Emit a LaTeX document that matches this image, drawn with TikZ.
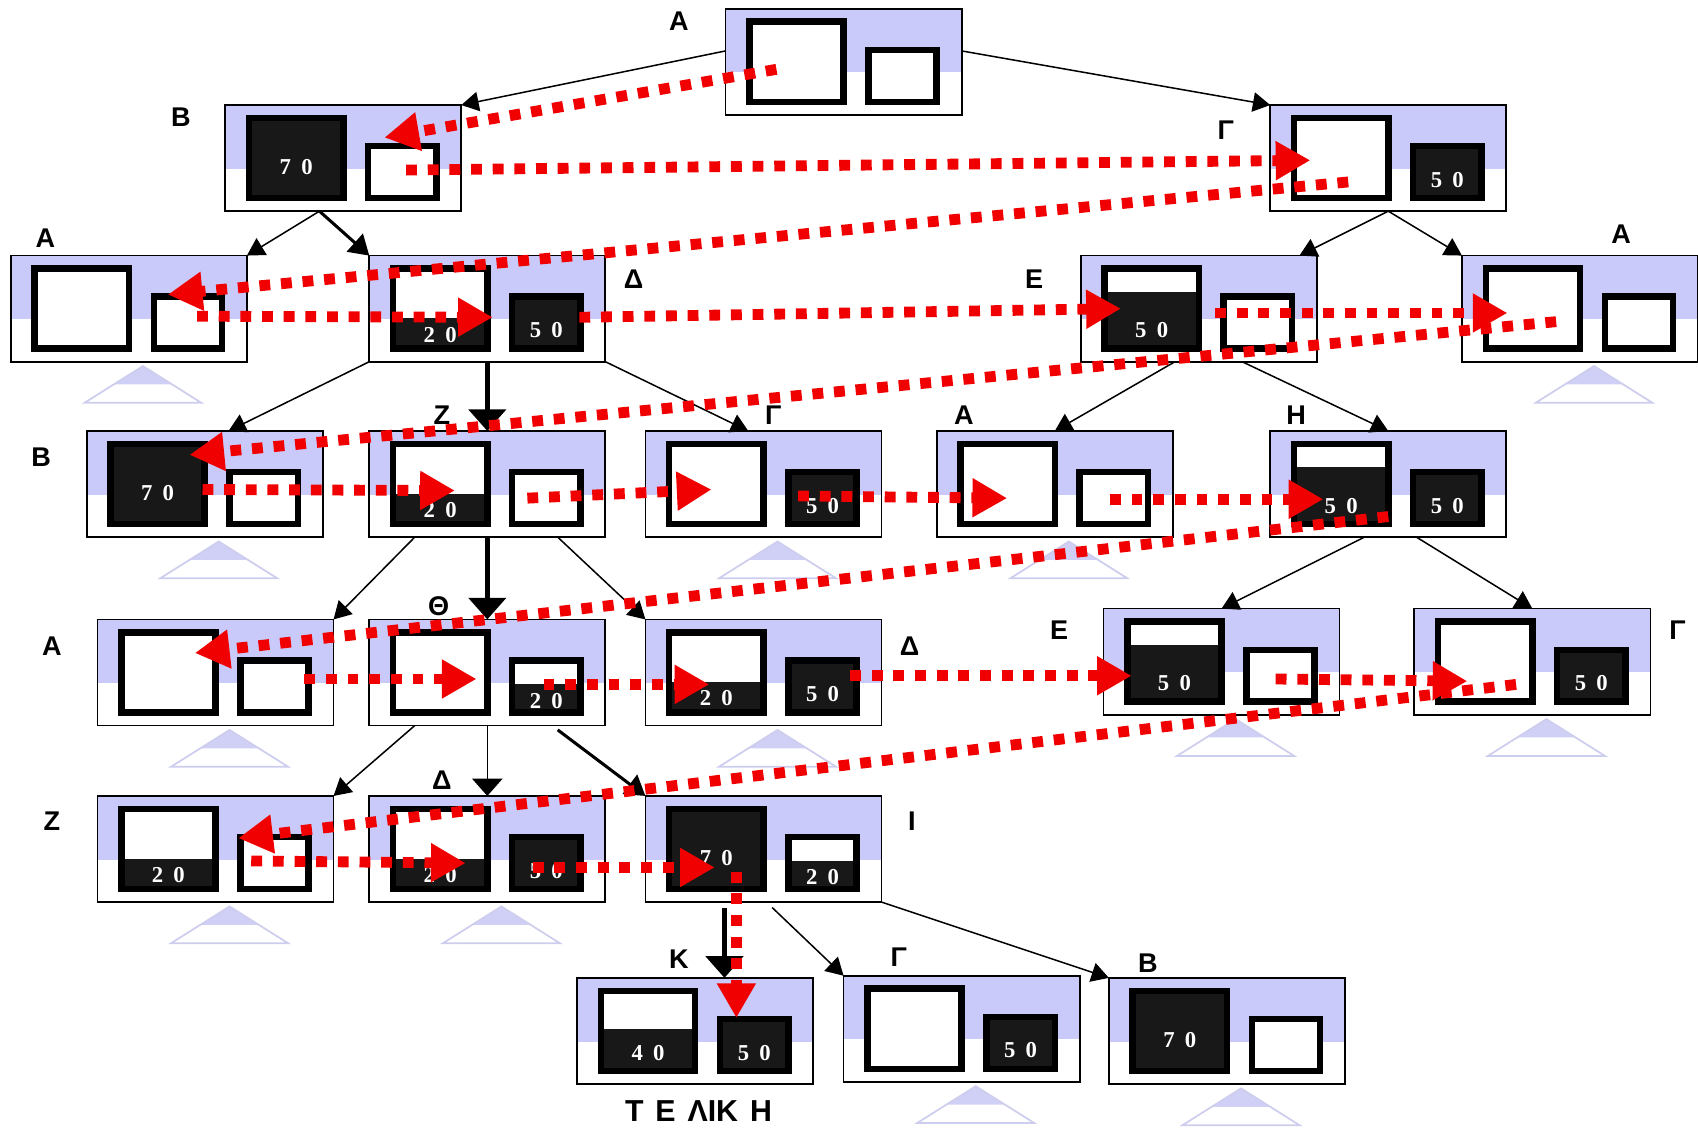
\documentclass[tikz,border=0pt]{standalone}
\usepackage{fontspec}
\setmainfont{Liberation Sans}
\newfontfamily\numfont{Liberation Serif}
\usetikzlibrary{arrows.meta,calc}
\definecolor{lav}{RGB}{202,202,250}
\definecolor{trifill}{RGB}{208,208,246}
\definecolor{triline}{RGB}{205,205,238}
\definecolor{sqdark}{RGB}{24,24,24}
\definecolor{tred}{RGB}{240,0,0}
\newcommand{\dd}[2]{#1\hspace{4.7pt}#2}
\newcommand{\sqdraw}[4]{%
  \fill[white] (#1a) rectangle (#1b);
  \ifdim #2pt>0pt \fill[sqdark] (#1a |- #1b) rectangle ($(#1b)!#2!(#1b |- #1a)$);\fi
  \draw[line width=3pt] (#1a) rectangle (#1b);
  \if\relax\detokenize{#3}\relax\else
    \node[numlbl] (#1t) at ($(#1a |- #1b)!0.5!(#1b)+(0,-#4)$) {#3};
  \fi}
\newcommand{\sqL}[4]{%
  \coordinate (#1-La) at ($(#1.north west)+(22,12)$);
  \coordinate (#1-Lb) at ($(#1.north west)+(109,86)$);
  \sqdraw{#1-L}{#2}{#3}{#4}}
\newcommand{\sqR}[4]{%
  \coordinate (#1-Ra) at ($(#1.north west)+(132,38)$);
  \coordinate (#1-Rb) at ($(#1.north west)+(195,86)$);
  \sqdraw{#1-R}{#2}{#3}{#4}}
\newcommand{\tri}[1]{%
  \fill[trifill] ($(#1.south west)+(122,4)$) -- ($(#1.south west)+(95,21)$) -- ($(#1.south west)+(149,21)$) -- cycle;
  \draw[triline, line width=0.8pt] ($(#1.south west)+(122,4)$) -- ($(#1.south west)+(68,38)$) -- ($(#1.south west)+(176,38)$) -- cycle;}
\begin{document}
\begin{tikzpicture}[x=0.5pt,y=-0.5pt,
  tbox/.style={draw=black, line width=0.8pt, rectangle, minimum width=109pt, minimum height=49pt,
    inner sep=0pt, outer sep=0pt,
    path picture={\fill[lav] (path picture bounding box.north west) rectangle
      ($(path picture bounding box.south east)!0.4!(path picture bounding box.north east)$);}},
  numlbl/.style={text=white, inner sep=0pt, font=\numfont\bfseries\fontsize{10.5}{12}\selectfont},
  lbl/.style={inner sep=0pt, font=\bfseries\fontsize{12.5}{14}\selectfont},
  tedge/.style={draw=black, line width=0.7pt, -{Triangle[length=8pt,width=9pt]}},
  tvert/.style={draw=black, line width=0.7pt, -{Triangle[length=8pt,width=14pt]}},
  tmed/.style={draw=black, line width=1.4pt, -{Triangle[length=9pt,width=11pt]}},
  tthick/.style={draw=black, line width=2.5pt, -{Triangle[length=10pt,width=17pt]}},
  redarr/.style={draw=tred, line width=5pt, dash pattern=on 5pt off 5pt, -{Triangle[length=16pt,width=17pt]}}
]
\useasboundingbox (0,0) rectangle (1568,1041);
% boxes
\node[tbox] (A0) at (670+109,8+49) {};
\node[tbox] (B1) at (208+109,97+49) {};
\node[tbox] (G1) at (1173+109,97+49) {};
\node[tbox] (A2L) at (10+109,236+49) {};
\node[tbox] (D2) at (341+109,236+49) {};
\node[tbox] (E2) at (998+109,236+49) {};
\node[tbox] (A2R) at (1350+109,236+49) {};
\node[tbox] (B3) at (80+109,398+49) {};
\node[tbox] (Z3) at (341+109,398+49) {};
\node[tbox] (G3) at (596+109,398+49) {};
\node[tbox] (A3) at (865+109,398+49) {};
\node[tbox] (H3) at (1173+109,398+49) {};
\node[tbox] (A4) at (90+109,572+49) {};
\node[tbox] (T4) at (341+109,572+49) {};
\node[tbox] (D4) at (596+109,572+49) {};
\node[tbox] (E4) at (1019+109,562+49) {};
\node[tbox] (G4) at (1306+109,562+49) {};
\node[tbox] (Z5) at (90+109,735+49) {};
\node[tbox] (D5) at (341+109,735+49) {};
\node[tbox] (I5) at (596+109,735+49) {};
\node[tbox] (K6) at (533+109,903+49) {};
\node[tbox] (G6) at (779+109,901+49) {};
\node[tbox] (B6) at (1024+109,903+49) {};
% squares
\sqL{A0}{0}{}{0} \sqR{A0}{0}{}{0}
\sqL{B1}{1}{\dd70}{29} \sqR{B1}{0}{}{0}
\sqL{G1}{0}{}{0} \sqR{G1}{1}{\dd50}{17}
\sqL{A2L}{0}{}{0} \sqR{A2L}{0}{}{0}
\sqL{D2}{0.38}{\dd20}{13} \sqR{D2}{1}{\dd50}{17}
\sqL{E2}{0.71}{\dd50}{17} \sqR{E2}{0}{}{0}
\sqL{A2R}{0}{}{0} \sqR{A2R}{0}{}{0}
\sqL{B3}{1}{\dd70}{29} \sqR{B3}{0}{}{0}
\sqL{Z3}{0.38}{\dd20}{13} \sqR{Z3}{0}{}{0}
\sqL{G3}{0}{}{0} \sqR{G3}{1}{\dd50}{17}
\sqL{A3}{0}{}{0} \sqR{A3}{0}{}{0}
\sqL{H3}{0.71}{\dd50}{17} \sqR{H3}{1}{\dd50}{17}
\sqL{A4}{0}{}{0} \sqR{A4}{0}{}{0}
\sqL{T4}{0}{}{0} \sqR{T4}{0.55}{\dd20}{11}
\sqL{D4}{0.38}{\dd20}{13} \sqR{D4}{1}{\dd50}{17}
\sqL{E4}{0.71}{\dd50}{17} \sqR{E4}{0}{}{0}
\sqL{G4}{0}{}{0} \sqR{G4}{1}{\dd50}{17}
\sqL{Z5}{0.38}{\dd20}{13} \sqR{Z5}{0}{}{0}
\sqL{D5}{0.38}{\dd20}{13} \sqR{D5}{1}{\dd50}{17}
\sqL{I5}{1}{\dd70}{29} \sqR{I5}{0.55}{\dd20}{11}
\sqL{K6}{0.53}{\dd40}{17} \sqR{K6}{1}{\dd50}{17}
\sqL{G6}{0}{}{0} \sqR{G6}{1}{\dd50}{17}
\sqL{B6}{1}{\dd70}{29} \sqR{B6}{0}{}{0}
% subtree triangles
\tri{A2L} \tri{A2R} \tri{B3} \tri{G3} \tri{A3} \tri{A4} \tri{D4} \tri{E4} \tri{G4} \tri{Z5} \tri{D5} \tri{G6} \tri{B6}
% labels
\node[lbl] (lA0) at (627,20) {Α};
\node[lbl] (lB1) at (167,108) {Β};
\node[lbl] (lG1) at (1132,120) {Γ};
\node[lbl] (lA2L) at (42,220) {Α};
\node[lbl] (lD2) at (585,258) {Δ};
\node[lbl] (lE2) at (955,258) {Ε};
\node[lbl] (lA2R) at (1497,216) {Α};
\node[lbl] (lB3) at (38,422) {Β};
\node[lbl] (lZ3) at (408,383) {Ζ};
\node[lbl] (lG3) at (714,383) {Γ};
\node[lbl] (lA3) at (890,383) {Α};
\node[lbl] (lH3) at (1197,383) {Η};
\node[lbl] (lA4) at (48,597) {Α};
\node[lbl] (lT4) at (405,560) {Θ};
\node[lbl] (lD4) at (840,597) {Δ};
\node[lbl] (lE4) at (978,582) {Ε};
\node[lbl] (lG4) at (1549,582) {Γ};
\node[lbl] (lZ5) at (48,758) {Ζ};
\node[lbl] (lD5) at (408,720) {Δ};
\node[lbl] (lI5) at (842,758) {Ι};
\node[lbl] (lK6) at (627,886) {Κ};
\node[lbl] (lG6) at (830,884) {Γ};
\node[lbl] (lB6) at (1060,889) {Β};
\node[lbl, font=\bfseries\fontsize{14}{16}\selectfont] (final) at (645,1026) {\spaceskip=5.5pt Τ Ε ΛΙΚ Η};
% tree edges
\draw[tedge] ([yshift=5pt]A0.west) -- (B1.north east);
\draw[tedge] ([yshift=5pt]A0.east) -- (G1.north west);
\draw[tedge] ([xshift=-11pt]B1.south) -- (A2L.north east);
\draw[tmed] ([xshift=-11pt]B1.south) -- (D2.north west);
\draw[tedge] (G1.south) -- ([xshift=-8pt]E2.north east);
\draw[tedge] (G1.south) -- (A2R.north west);
\draw[tedge] (D2.south west) -- ([xshift=11pt]B3.north);
\draw[tthick] (D2.south) -- (Z3.north);
\draw[tedge] (D2.south east) -- ([xshift=-7pt]G3.north);
\draw[tedge] ([xshift=-11pt]E2.south) -- (A3.north);
\draw[tedge] ([xshift=20pt]E2.south) -- (H3.north);
\draw[tedge] ([xshift=21pt]Z3.south west) -- (A4.north east);
\draw[tthick] (Z3.south) -- (T4.north);
\draw[tedge] ([xshift=-22pt]Z3.south east) -- (D4.north west);
\draw[tedge] ([xshift=-11pt]H3.south) -- (E4.north);
\draw[tedge] ([xshift=13pt]H3.south) -- (G4.north);
\draw[tedge] ([xshift=21pt]T4.south west) -- (Z5.north east);
\draw[tvert] (T4.south) -- (D5.north);
\draw[tmed] ([xshift=-22pt,yshift=-2pt]T4.south east) -- (I5.north west);
\draw[tthick] ([xshift=-18pt,yshift=-2.5pt]I5.south) -- ([xshift=13.5pt]K6.north);
\draw[tedge] ([xshift=4pt,yshift=-2.5pt]I5.south) -- (G6.north west);
\draw[tedge] (I5.south east) -- (B6.north west);
% red trace
\draw[redarr] ($(A0.north west)+(47,56)$) -- ($(B1.north west)+(147,30)$);
\draw[redarr] ($(B1.north west)+(167,60)$) -- ($(G1.north west)+(37,51)$);
\draw[redarr] ($(G1.north west)+(72,71)$) -- ($(A2L.north west)+(145,36)$);
\draw[redarr] ($(A2L.north west)+(172,56)$) -- ($(D2.north west)+(114,57)$);
\draw[redarr] ($(D2.north west)+(194,57)$) -- ($(E2.north west)+(37,49)$);
\draw[redarr] ($(E2.north west)+(124,53)$) -- ($(A2R.north west)+(42,53)$);
\draw[redarr] ($(A2R.north west)+(87,61)$) -- ($(B3.north west)+(95,22)$);
\draw[redarr] ($(B3.north west)+(107,54)$) -- ($(Z3.north west)+(79,55)$);
\draw[redarr] ($(Z3.north west)+(146,62)$) -- ($(G3.north west)+(61,54)$);
\draw[redarr] ($(G3.north west)+(141,60)$) -- ($(A3.north west)+(65,62)$);
\draw[redarr] ($(A3.north west)+(160,63)$) -- ($(H3.north west)+(49,63)$);
\draw[redarr] ($(H3.north west)+(109,79)$) -- ($(A4.north west)+(90,31)$);
\draw[redarr] ($(A4.north west)+(191,55)$) -- ($(T4.north west)+(99,55)$);
\draw[redarr] ($(T4.north west)+(161,60)$) -- ($(D4.north west)+(59,60)$);
\draw[redarr] ($(D4.north west)+(189,52)$) -- ($(E4.north west)+(26,62)$);
\draw[redarr] ($(E4.north west)+(159,65)$) -- ($(G4.north west)+(49,67)$);
\draw[redarr] ($(G4.north west)+(94,70)$) -- ($(Z5.north west)+(130,39)$);
\draw[redarr] ($(Z5.north west)+(142,60)$) -- ($(D5.north west)+(89,62)$);
\draw[redarr] ($(D5.north west)+(151,66)$) -- ($(I5.north west)+(64,66)$);
\draw[redarr] ($(I5.north west)+(84,70)$) -- ($(K6.north west)+(147,37)$);
\end{tikzpicture}
\end{document}
